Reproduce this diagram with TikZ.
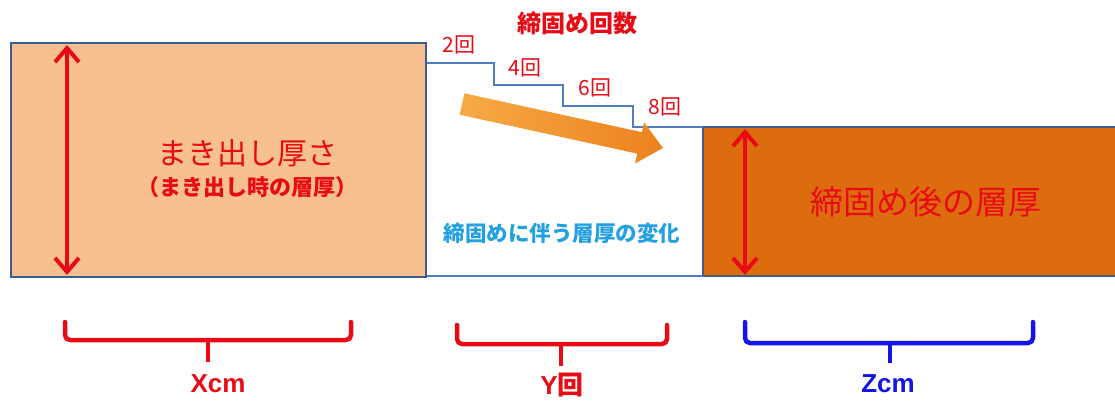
\documentclass[tikz,border=0pt]{standalone}
\usepackage{fontspec}
\usetikzlibrary{arrows.meta}
\newfontfamily\jp{Noto Sans CJK JP}
\newfontfamily\lat{Liberation Sans}
\definecolor{boxline}{RGB}{62,92,140}
\definecolor{stairline}{RGB}{80,125,190}
\definecolor{lfill}{RGB}{248,192,144}
\definecolor{rfill}{RGB}{221,108,14}
\definecolor{myred}{RGB}{232,10,20}
\definecolor{mycyan}{RGB}{35,160,225}
\definecolor{myblue}{RGB}{20,20,230}
\definecolor{arrowA}{RGB}{246,170,70}
\definecolor{arrowB}{RGB}{236,130,30}
\tikzset{
  layer/.style={draw=boxline, line width=2.6pt},
  stair/.style={draw=stairline, line width=1.1pt},
  dimarrow/.style={draw=myred, line width=4pt, {Straight Barb[length=14pt,width=24pt]}-{Straight Barb[length=14pt,width=24pt]}},
  bracepath/.style={line width=4.5pt, line cap=round, line join=round, rounded corners=5pt},
  txt/.style={inner sep=0pt, font=\jp},
}
\newcommand{\fs}[1]{\fontsize{#1}{#1}\selectfont}
\begin{document}
\begin{tikzpicture}[x=1pt,y=-1pt]
\useasboundingbox (0,0) rectangle (1115,400);
% boxes
\path[layer, fill=lfill] (11,43) rectangle (426,277);
\path[layer, fill=rfill] (703,127) rectangle (1118,276);
% staircase and bottom line
\coordinate (s0) at (427,63);
\coordinate (s1) at (703,127);
\draw[stair] (s0) -- (494,63) -- (494,85) -- (563,85) -- (563,106) -- (633,106) -- (633,127) -- (s1);
\coordinate (b0) at (427,276);
\coordinate (b1) at (703,276);
\draw[stair] (b0) -- (b1);
% orange block arrow
\shade[left color=arrowA, right color=arrowB]
  (459.6,114.7) -- (464.4,93.3) -- (641.9,132.2) -- (644.1,122.4) -- (663,148)
  -- (635.1,163.4) -- (637.2,153.6) -- cycle;
% red dimension arrows
\coordinate (la1) at (67,45);
\coordinate (la2) at (67,275);
\draw[dimarrow] (la1) -- (la2);
\coordinate (ra1) at (745,129);
\coordinate (ra2) at (745,275);
\draw[dimarrow] (ra1) -- (ra2);
% texts
\node[txt, text=myred, font=\jp\bfseries\fs{24}] (title) at (577,23) {締固め回数};
\node[txt, text=myred, font=\jp\fs{21}] (n2) at (459,45) {2回};
\node[txt, text=myred, font=\jp\fs{21}] (n4) at (525,68) {4回};
\node[txt, text=myred, font=\jp\fs{21}] (n6) at (595,88) {6回};
\node[txt, text=myred, font=\jp\fs{21}] (n8) at (665,107) {8回};
\node[txt, text=myred, font=\jp\fs{30}] (lt1) at (247,153) {まき出し厚さ};
\node[txt, text=myred, font=\jp\bfseries\fs{22}] (lt2) at (247,187) {（まき出し時の層厚）};
\node[txt, text=mycyan, font=\jp\bfseries\fs{21.5}] (mt) at (562,233) {締固めに伴う層厚の変化};
\node[txt, text=myred, font=\jp\fs{33}] (rt) at (926,202) {締固め後の層厚};
% braces
\draw[bracepath, myred] (65,322) |- (351,340) -- (351,322);
\draw[myred, line width=4.5pt] (208,340) -- (208,362);
\draw[bracepath, myred] (457,325) |- (667,344) -- (667,325);
\draw[myred, line width=4.5pt] (561,344) -- (561,366);
\draw[bracepath, myblue] (745,322) |- (1033,343) -- (1033,322);
\draw[myblue, line width=4.5pt] (890,343) -- (890,363);
\node[txt, text=myred, font=\lat\bfseries\fs{26}] (xl) at (218,384) {Xcm};
\node[txt, text=myred, font=\fs{26}] (yl) at (562,385) {{\lat\bfseries Y}{\jp\bfseries 回}};
\node[txt, text=myblue, font=\lat\bfseries\fs{26}] (zl) at (888,384) {Zcm};
\end{tikzpicture}
\end{document}
